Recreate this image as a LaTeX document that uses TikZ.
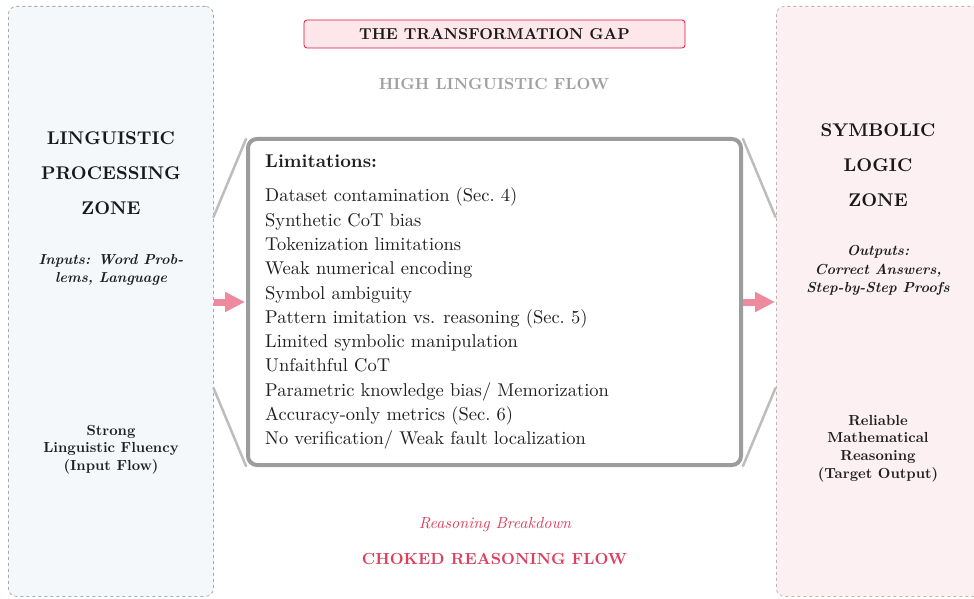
\documentclass[tikz,border=0pt]{standalone}
\usepackage{fontspec}
\setmainfont{lmroman10}[Extension=.otf, UprightFont=*-regular, BoldFont=*-bold, ItalicFont=*-italic, BoldItalicFont=*-bolditalic]
\usetikzlibrary{arrows.meta}
\definecolor{leftfill}{HTML}{F4F8FB}
\definecolor{leftdraw}{HTML}{A3ABB3}
\definecolor{rightfill}{HTML}{FCF0F2}
\definecolor{rightdraw}{HTML}{BDB5B7}
\definecolor{titlefill}{HTML}{FDE7EB}
\definecolor{crim}{HTML}{DC143C}
\definecolor{crimtext}{HTML}{DD3F5E}
\definecolor{arrowpink}{HTML}{EE8A9D}
\definecolor{boxgray}{HTML}{9C9C9C}
\definecolor{funnelgray}{HTML}{BDBDBD}
\definecolor{flowgray}{HTML}{A0A0A0}
\tikzset{
  zone/.style={draw, dashed, line width=0.8pt, rounded corners=8pt, anchor=north west, inner sep=0pt},
  zonehead/.style={align=center, font=\fontsize{18.4}{35}\selectfont\bfseries, text=black!90},
  zonesmall/.style={align=center, font=\fontsize{14.6}{17.6}\selectfont\bfseries, text=black!88},
  zoneital/.style={align=center, font=\fontsize{14.5}{18.5}\selectfont\bfseries\itshape, text=black!88},
  funnel/.style={draw=funnelgray, line width=2.5pt, line cap=round},
  flowarrow/.style={draw=arrowpink, line width=7pt, -{Triangle[length=20pt,width=19pt]}, shorten >=1pt},
  captext/.style={font=\fontsize{16.1}{18}\selectfont\bfseries},
}
\begin{document}
\begin{tikzpicture}[x=1pt,y=-1pt]
\clip (0,0) rectangle (974,599);
\fill[white] (0,0) rectangle (974,599);
% zones
\node[zone, fill=leftfill, draw=leftdraw, minimum width=205pt, minimum height=590pt] (left) at (8,6) {};
\node[zone, fill=rightfill, draw=rightdraw, minimum width=220pt, minimum height=590pt] (right) at (776,6) {};
% title
\node[draw=crim, fill=titlefill, line width=0.8pt, rounded corners=3pt, minimum width=381pt, minimum height=28pt, inner sep=0pt, font=\fontsize{15.8}{18}\selectfont\bfseries, text=black!90] (title) at (494.5,34) {THE TRANSFORMATION GAP};
\node[captext, text=flowgray] (high) at (494,84) {HIGH LINGUISTIC FLOW};
% central box
\node[draw=boxgray, line width=4pt, rounded corners=9pt, minimum width=493pt, minimum height=326pt, inner sep=0pt] (mid) at (494.5,302) {};
\node[anchor=north west, inner sep=0pt, align=left, font=\fontsize{18.5}{24.3}\selectfont, text=black!88] (list) at (265,155) {%
{\bfseries Limitations:}\\[9.7pt]
Dataset contamination (Sec.~4)\\
Synthetic CoT bias\\
Tokenization limitations\\
Weak numerical encoding\\
Symbol ambiguity\\
Pattern imitation vs. reasoning (Sec.~5)\\
Limited symbolic manipulation\\
Unfaithful CoT\\
Parametric knowledge bias/ Memorization\\
Accuracy-only metrics (Sec.~6)\\
No verification/ Weak fault localization};
% funnel lines
\coordinate (lt) at (213.5,217);
\coordinate (lb) at (213.5,388);
\coordinate (rt) at (775.5,217);
\coordinate (rb) at (775.5,388);
\coordinate (mtl) at (246,139);
\coordinate (mbl) at (246,466);
\coordinate (mtr) at (743,139);
\coordinate (mbr) at (743,466);
\draw[funnel] (lt) -- (mtl);
\draw[funnel] (lb) -- (mbl);
\draw[funnel] (rt) -- (mtr);
\draw[funnel] (rb) -- (mbr);
% flow arrows
\draw[flowarrow] (left.east |- mid.west) -- (mid.west);
\draw[flowarrow] (mid.east) -- (right.west |- mid.east);
% left zone text
\node[zonehead] (lhead) at (111,173.5) {LINGUISTIC\\PROCESSING\\ZONE};
\node[zoneital] (linputs) at (111,270) {Inputs: Word Prob-\\lems, Language};
\node[zonesmall] (lstrong) at (111,449.5) {Strong\\Linguistic Fluency\\(Input Flow)};
% right zone text
\node[zonehead] (rhead) at (878,165.5) {SYMBOLIC\\LOGIC\\ZONE};
\node[zoneital] (routputs) at (878,270.5) {Outputs:\\Correct Answers,\\Step-by-Step Proofs};
\node[zonesmall] (rreliable) at (878,448.5) {Reliable\\Mathematical\\Reasoning\\(Target Output)};
% bottom texts
\node[font=\fontsize{16.1}{18}\selectfont\itshape, text=crimtext] (breakdown) at (495,524.5) {Reasoning Breakdown};
\node[captext, text=crimtext] (choked) at (494.5,559) {CHOKED REASONING FLOW};
\end{tikzpicture}
\end{document}
